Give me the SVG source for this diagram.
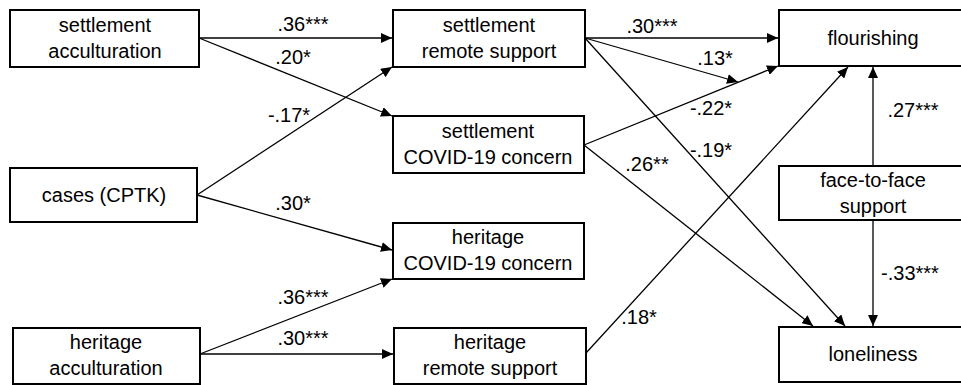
<svg xmlns="http://www.w3.org/2000/svg" width="961" height="385" viewBox="0 0 961 385">
<defs>
<style>
.box{fill:#fff;stroke:#000;stroke-width:2}
.t{font-family:"Liberation Sans",Arial,sans-serif;font-size:20px;fill:#000;text-anchor:middle}
.c{stroke:#000;stroke-width:1.3;fill:none;marker-end:url(#ah)}
</style>
<marker id="ah" markerUnits="userSpaceOnUse" markerWidth="12" markerHeight="10" refX="11" refY="5" orient="auto">
<path d="M0,0 L11,5 L0,10 Z" fill="#000"/>
</marker>
</defs>
<rect width="961" height="385" fill="#fff"/>
<g id="connectors">
<line class="c" x1="199" y1="38" x2="392" y2="38"/>
<line class="c" x1="199" y1="38" x2="392" y2="116"/>
<line class="c" x1="197" y1="195" x2="392" y2="67"/>
<line class="c" x1="197" y1="195" x2="392" y2="250"/>
<line class="c" x1="200" y1="354" x2="392" y2="279"/>
<line class="c" x1="200" y1="354" x2="393" y2="354"/>
<line class="c" x1="585" y1="38" x2="778" y2="38"/>
<line class="c" x1="585" y1="38" x2="738" y2="82"/>
<line class="c" x1="585" y1="38" x2="845" y2="326"/>
<line class="c" x1="584" y1="145" x2="778" y2="66"/>
<line class="c" x1="584" y1="145" x2="813" y2="326"/>
<line class="c" x1="586" y1="353" x2="848" y2="67"/>
<line class="c" x1="873" y1="166" x2="873" y2="67"/>
<line class="c" x1="873" y1="220" x2="873" y2="326"/>
</g>
<g id="labels">
<text class="t" x="303" y="31">.36***</text>
<text class="t" x="293" y="64">.20*</text>
<text class="t" x="289" y="122">-.17*</text>
<text class="t" x="293" y="210">.30*</text>
<text class="t" x="303" y="304">.36***</text>
<text class="t" x="303" y="345">.30***</text>
<text class="t" x="652" y="33">.30***</text>
<text class="t" x="715" y="65">.13*</text>
<text class="t" x="711" y="115">-.22*</text>
<text class="t" x="711" y="157">-.19*</text>
<text class="t" x="647" y="171">.26**</text>
<text class="t" x="639" y="324">.18*</text>
<text class="t" x="913" y="117">.27***</text>
<text class="t" x="910" y="280">-.33***</text>
</g>
<g id="settlement-acculturation">
<rect class="box" x="10" y="10" width="189" height="57"/>
<text class="t" x="105" y="32">settlement</text>
<text class="t" x="105" y="58">acculturation</text>
</g>
<g id="cases">
<rect class="box" x="10" y="168" width="187" height="54"/>
<text class="t" x="104" y="202">cases (CPTK)</text>
</g>
<g id="heritage-acculturation">
<rect class="box" x="13" y="328" width="187" height="56"/>
<text class="t" x="106" y="349">heritage</text>
<text class="t" x="106" y="375">acculturation</text>
</g>
<g id="settlement-remote-support">
<rect class="box" x="393" y="10" width="192" height="57"/>
<text class="t" x="489" y="32">settlement</text>
<text class="t" x="489" y="58">remote support</text>
</g>
<g id="settlement-covid-concern">
<rect class="box" x="393" y="116" width="191" height="57"/>
<text class="t" x="488" y="138">settlement</text>
<text class="t" x="488" y="164">COVID-19 concern</text>
</g>
<g id="heritage-covid-concern">
<rect class="box" x="393" y="223" width="191" height="56"/>
<text class="t" x="488" y="244">heritage</text>
<text class="t" x="488" y="270">COVID-19 concern</text>
</g>
<g id="heritage-remote-support">
<rect class="box" x="394" y="328" width="192" height="56"/>
<text class="t" x="490" y="349">heritage</text>
<text class="t" x="490" y="375">remote support</text>
</g>
<g id="flourishing">
<rect class="box" x="779" y="10" width="190" height="56"/>
<text class="t" x="873" y="45">flourishing</text>
</g>
<g id="face-to-face-support">
<rect class="box" x="779" y="166" width="190" height="54"/>
<text class="t" x="873" y="187">face-to-face</text>
<text class="t" x="873" y="213">support</text>
</g>
<g id="loneliness">
<rect class="box" x="779" y="327" width="190" height="55"/>
<text class="t" x="873" y="361">loneliness</text>
</g>
</svg>
